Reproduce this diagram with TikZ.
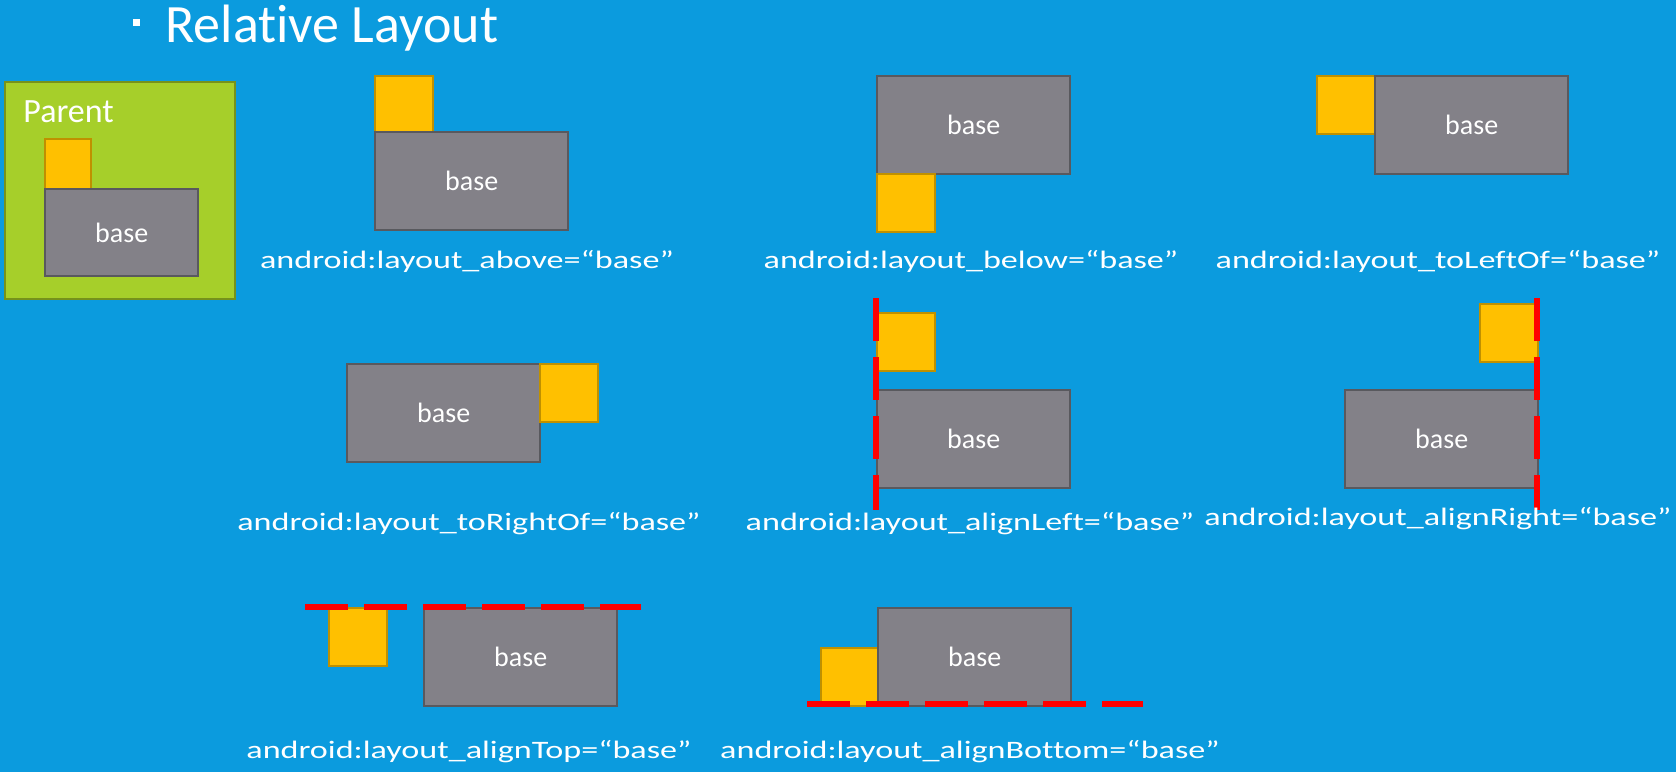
\documentclass[tikz,border=0pt]{standalone}
\usepackage{fontspec}
\setmainfont{Carlito}[Ligatures=NoCommon]
\usepackage{graphicx}
\definecolor{bg}{RGB}{11,155,222}
\definecolor{basegray}{RGB}{131,129,136}
\definecolor{bordergray}{RGB}{89,89,94}
\definecolor{yfill}{RGB}{255,192,0}
\definecolor{yborder}{RGB}{191,144,0}
\definecolor{gfill}{RGB}{166,207,42}
\definecolor{gborder}{RGB}{118,146,27}
\newcommand{\lblstretch}[1]{\scalebox{1.36}[1]{#1}}
\tikzset{
  basebox/.style={draw=bordergray, fill=basegray, line width=1.2pt, minimum width=96.5pt, minimum height=49pt, inner sep=0pt, anchor=north west, text=white, font=\fontsize{14}{16}\selectfont},
  ybox/.style={draw=yborder, fill=yfill, line width=1.2pt, minimum width=29pt, minimum height=29pt, inner sep=0pt, anchor=north west},
  lbl/.style={anchor=base, text=white, inner sep=0pt, font=\fontsize{12.55}{14}\selectfont},
  guide/.style={draw=red, line width=2.6pt, dash pattern=on 21.5pt off 8pt}
}
\begin{document}
\begin{tikzpicture}[x=0.5pt,y=-0.5pt]
\useasboundingbox (0,0) rectangle (1676,772);
\fill[bg] (0,0) rectangle (1676,772);
% title
\node[fill=white, minimum size=3.5pt, inner sep=0pt] (bullet) at (136,22.7) {};
\node[anchor=base west, text=white, inner sep=0pt, font=\fontsize{27}{31}\selectfont] (title) at (165,42.7) {Relative Layout};
% parent
\node[draw=gborder, fill=gfill, line width=1.2pt, minimum width=115pt, minimum height=108.5pt, inner sep=0pt, anchor=north west] (parent) at (4,81) {};
\node[anchor=base west, text=white, inner sep=0pt, font=\fontsize{17}{20}\selectfont] (parenttxt) at (23,122) {Parent};
\node[ybox, minimum width=23pt, minimum height=25pt] (p-y) at (44,138) {};
\node[basebox, minimum width=76.5pt, minimum height=43.5pt] (p-base) at (44,188) {base};
% above
\node[ybox] (ab-y) at (374,75) {};
\node[basebox] (ab-base) at (374,131) {base};
\node[lbl] (ab-lbl) at (467,268) {\lblstretch{android:layout\_above=“base”}};
% below
\node[basebox] (be-base) at (876,75) {base};
\node[ybox] (be-y) at (876,173) {};
\node[lbl] (be-lbl) at (971,268) {\lblstretch{android:layout\_below=“base”}};
% toLeftOf
\node[ybox] (tl-y) at (1316,75) {};
\node[basebox] (tl-base) at (1374,75) {base};
\node[lbl] (tl-lbl) at (1438,268) {\lblstretch{android:layout\_toLeftOf=“base”}};
% toRightOf
\node[basebox] (tr-base) at (346,363) {base};
\node[ybox] (tr-y) at (539,363) {};
\node[lbl] (tr-lbl) at (469,530) {\lblstretch{android:layout\_toRightOf=“base”}};
% alignLeft
\node[ybox] (al-y) at (876,312) {};
\node[basebox] (al-base) at (876,389) {base};
\coordinate (al-top) at (876,298);
\coordinate (al-bot) at (876,510);
\draw[guide] (al-top) -- (al-bot);
\node[lbl] (al-lbl) at (970,530) {\lblstretch{android:layout\_alignLeft=“base”}};
% alignRight
\node[ybox] (ar-y) at (1479,303) {};
\node[basebox] (ar-base) at (1344,389) {base};
\coordinate (ar-top) at (1537,298);
\coordinate (ar-bot) at (1537,510);
\draw[guide] (ar-top) -- (ar-bot);
\node[lbl] (ar-lbl) at (1438,525) {\lblstretch{android:layout\_alignRight=“base”}};
% alignTop
\node[ybox] (at-y) at (328,607) {};
\node[basebox] (at-base) at (423,607) {base};
\coordinate (at-l) at (305,607);
\coordinate (at-r) at (641,607);
\draw[guide] (at-l) -- (at-r);
\node[lbl] (at-lbl) at (469,758) {\lblstretch{android:layout\_alignTop=“base”}};
% alignBottom
\node[ybox] (ab2-y) at (820,647) {};
\node[basebox] (ab2-base) at (877,607) {base};
\coordinate (ab2-l) at (807,704);
\coordinate (ab2-r) at (1143,704);
\draw[guide] (ab2-l) -- (ab2-r);
\node[lbl] (ab2-lbl) at (970,758) {\lblstretch{android:layout\_alignBottom=“base”}};
\end{tikzpicture}
\end{document}
